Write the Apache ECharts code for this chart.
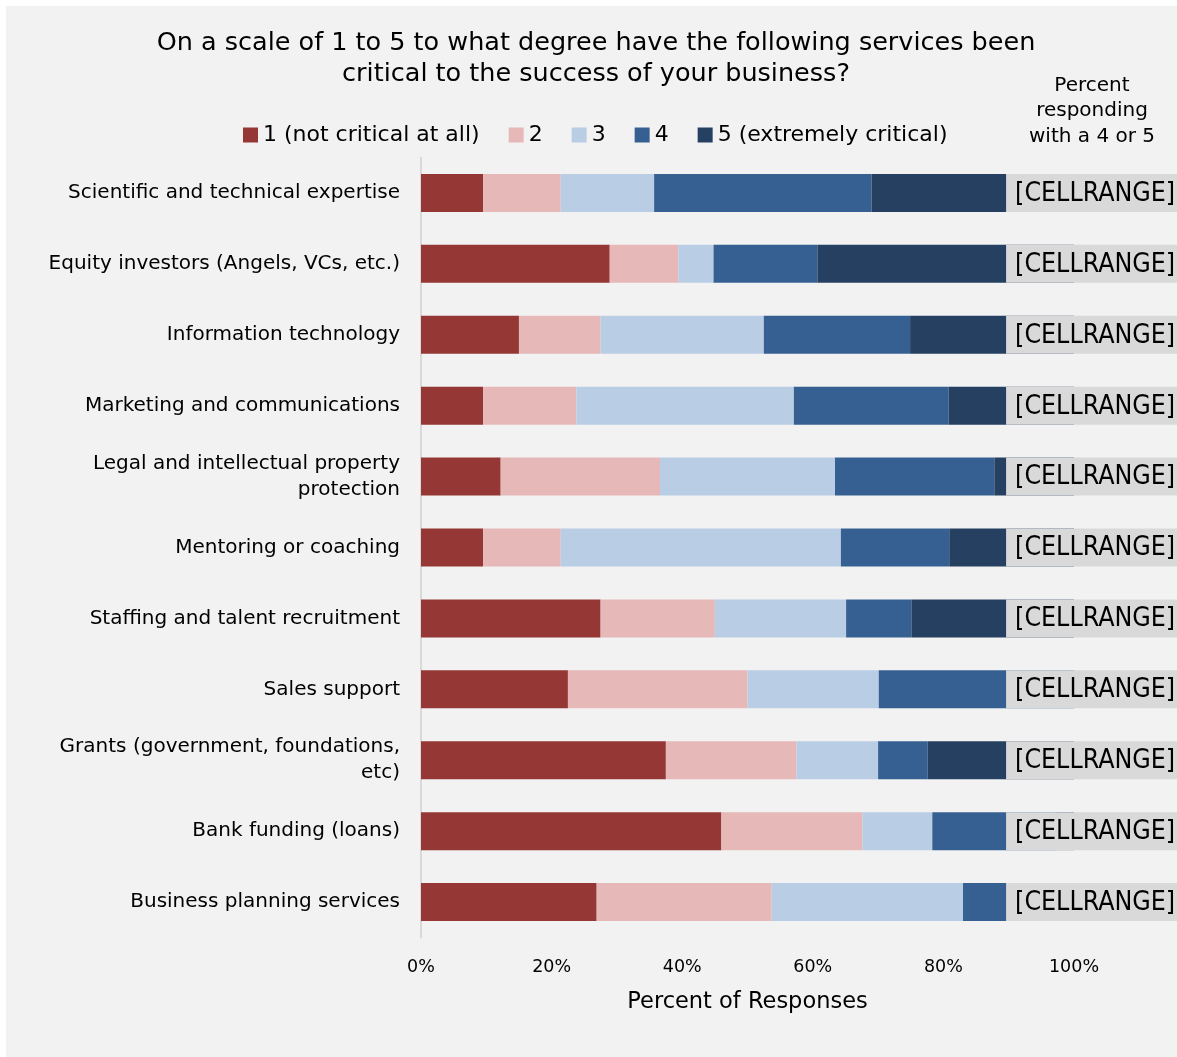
<!DOCTYPE html>
<html>
<head>
<meta charset="utf-8">
<title>Critical services</title>
<script src="https://cdn.jsdelivr.net/npm/echarts@6/dist/echarts.min.js"></script>
<style>
    html, body { margin: 0; padding: 0; background: #fff; }
    #chart { width: 1177px; height: 1057px; }
</style>
</head>
<body>
<div id="chart"></div>
<script>
let categories = [
    'Scientific and technical expertise',
    'Equity investors (Angels, VCs, etc.)',
    'Information technology',
    'Marketing and communications',
    'Legal and intellectual property\nprotection',
    'Mentoring or coaching',
    'Staffing and talent recruitment',
    'Sales support',
    'Grants (government, foundations,\netc)',
    'Bank funding (loans)',
    'Business planning services'
];

let seriesNames = ['1 (not critical at all)', '2', '3', '4', '5 (extremely critical)'];

// percent of responses per rating, same order as categories
let rating1 = [9.5, 28.9, 15.0, 9.5, 12.2, 9.5, 27.5, 22.5, 37.5, 46.0, 26.9];
let rating2 = [11.9, 10.5, 12.5, 14.3, 24.4, 11.9, 17.5, 27.5, 20.0, 21.6, 26.8];
let rating3 = [14.3, 5.4, 25.0, 33.3, 26.8, 42.9, 20.1, 20.1, 12.5, 10.7, 29.3];
let rating4 = [33.3, 15.9, 22.4, 23.7, 24.4, 16.6, 10.0, 29.9, 7.6, 19.0, 7.4];
let rating5 = [31.0, 39.3, 25.1, 19.2, 12.2, 19.1, 24.9, 0, 22.4, 2.7, 9.6];

let xTicks = [0, 20, 40, 60, 80, 100];

let colors = ['#953735', '#e6b9b8', '#b9cde5', '#376092', '#254061'];
let font = 'DejaVu Sans, Verdana, sans-serif';
let barH = 38;
let labelStart = 89.6;

let chart = echarts.init(document.getElementById('chart'));

let ratings = [rating1, rating2, rating3, rating4, rating5];
let barSeries = ratings.map((values, i) => ({
    name: seriesNames[i],
    type: 'bar',
    stack: 'total',
    barWidth: barH,
    itemStyle: { color: colors[i] },
    emphasis: { disabled: true },
    data: values
}));

// gray "[CELLRANGE]" boxes placed over the end of each bar
let cellRangeSeries = {
    type: 'custom',
    clip: false,
    z: 10,
    encode: { x: 0, y: 1 },
    data: categories.map((c, i) => [labelStart, i]),
    renderItem: function (params, api) {
        let p = api.coord([api.value(0), api.value(1)]);
        return {
            type: 'group',
            children: [
                {
                    type: 'rect',
                    shape: { x: p[0], y: p[1] - barH / 2, width: api.getWidth() - p[0], height: barH },
                    style: { fill: '#d9d9d9' }
                },
                {
                    type: 'text',
                    style: {
                        text: '[CELLRANGE]',
                        x: p[0] + 9,
                        y: p[1] + 1,
                        verticalAlign: 'middle',
                        fill: '#000',
                        font: '26.5px "DejaVu Sans Condensed", "DejaVu Sans", sans-serif'
                    }
                }
            ]
        };
    }
};

let conf = {
    backgroundColor: 'transparent',
    animation: false,
    textStyle: { fontFamily: font },
    graphic: [
        {
            type: 'rect',
            left: 6,
            top: 6,
            z: -10,
            shape: { width: 1171, height: 1051 },
            style: { fill: '#f2f2f2' }
        },
        {
            type: 'text',
            x: 596,
            y: 28,
            style: {
                text: 'On a scale of 1 to 5 to what degree have the following services been\ncritical to the success of your business?',
                align: 'center',
                font: '25.5px ' + font,
                lineHeight: 31,
                fill: '#000'
            }
        },
        {
            type: 'text',
            x: 1092,
            y: 73,
            style: {
                text: 'Percent\nresponding\nwith a 4 or 5',
                align: 'center',
                font: '20px ' + font,
                lineHeight: 25.5,
                fill: '#000'
            }
        }
    ],
    legend: {
        data: seriesNames,
        top: 119,
        left: 238,
        icon: 'rect',
        itemWidth: 15,
        itemHeight: 15,
        itemGap: 29,
        textStyle: { fontSize: 22, color: '#000', fontFamily: font }
    },
    grid: {
        left: 421,
        right: 103,
        top: 157.5,
        bottom: 119.5,
        containLabel: false
    },
    xAxis: {
        type: 'value',
        min: 0,
        max: 100,
        interval: 20,
        name: 'Percent of Responses',
        nameLocation: 'middle',
        nameGap: 53,
        nameTextStyle: { fontSize: 22.5, color: '#000', fontFamily: font },
        axisLine: { show: false },
        axisTick: { show: false },
        splitLine: { show: false },
        axisLabel: {
            fontSize: 17.5,
            color: '#000',
            margin: 21,
            formatter: v => xTicks.includes(v) ? v + '%' : ''
        }
    },
    yAxis: {
        type: 'category',
        inverse: true,
        data: categories,
        axisLine: { show: true, lineStyle: { color: '#d9d9d9', width: 2 } },
        axisTick: { show: false },
        axisLabel: {
            fontSize: 20,
            color: '#000',
            margin: 21,
            lineHeight: 26,
            align: 'right'
        }
    },
    series: barSeries.concat([cellRangeSeries])
};

chart.setOption(conf);
</script>
</body>
</html>
